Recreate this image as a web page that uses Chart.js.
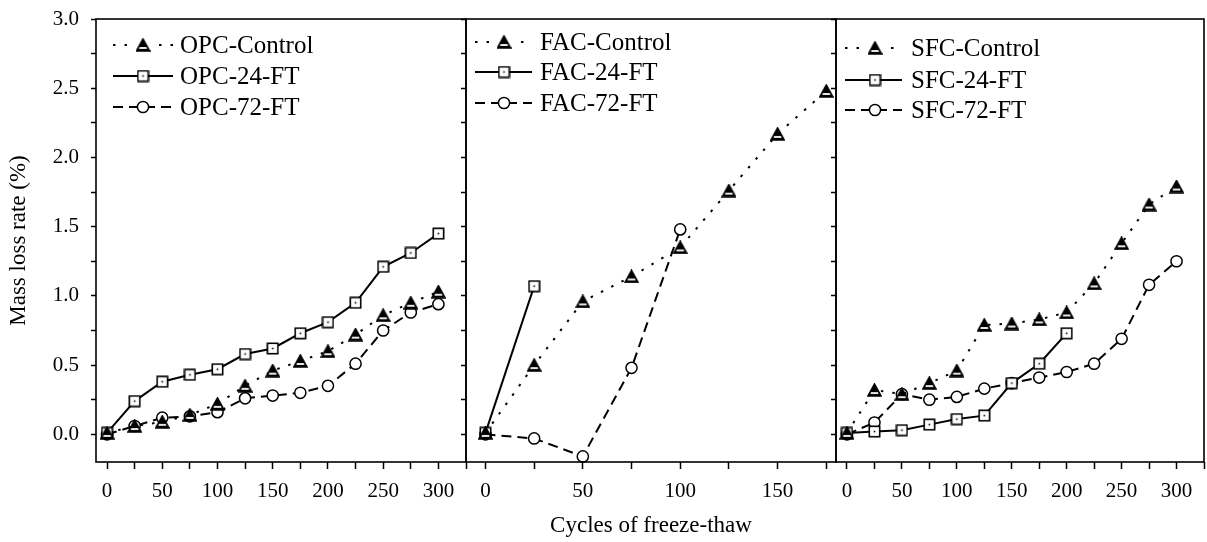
<!DOCTYPE html>
<html>
<head>
<meta charset="utf-8">
<title>Mass loss rate vs freeze-thaw cycles</title>
<script src="https://cdn.jsdelivr.net/npm/chart.js@4.4.1/dist/chart.umd.min.js"></script>
<style>
  html, body { margin: 0; padding: 0; background: #fff; overflow: hidden; }
  #wrap { position: relative; width: 1207px; height: 542px; overflow: hidden; }
  #wrap canvas { position: absolute; left: 0; top: 0; }
</style>
</head>
<body>
<div id="wrap">
  <canvas id="opcChart" width="1207" height="542"></canvas>
  <canvas id="facChart" width="1207" height="542"></canvas>
  <!-- a bit wider than the page: Chart.js keeps ~8px free on the right edge -->
  <canvas id="sfcChart" width="1220" height="542"></canvas>
</div>
<script>
// Cycles of freeze-thaw
const cycles = [0, 25, 50, 75, 100, 125, 150, 175, 200, 225, 250, 275, 300];

// Mass loss rate (%)
const opcControl = [0.01, 0.06, 0.09, 0.14, 0.22, 0.35, 0.46, 0.53, 0.60, 0.72, 0.86, 0.95, 1.03];
const opc24 = [0.01, 0.24, 0.38, 0.43, 0.47, 0.58, 0.62, 0.73, 0.81, 0.95, 1.21, 1.31, 1.45];
const opc72 = [0.00, 0.06, 0.12, 0.13, 0.16, 0.26, 0.28, 0.30, 0.35, 0.51, 0.75, 0.88, 0.94];

const facControl = [0.01, 0.50, 0.96, 1.14, 1.35, 1.76, 2.17, 2.48];
const fac24 = [0.01, 1.07];
const fac72 = [0.00, -0.03, -0.16, 0.48, 1.48];

const sfcControl = [0.01, 0.32, 0.29, 0.37, 0.46, 0.79, 0.80, 0.83, 0.88, 1.09, 1.38, 1.66, 1.79];
const sfc24 = [0.01, 0.02, 0.03, 0.07, 0.11, 0.135, 0.37, 0.51, 0.73];
const sfc72 = [0.00, 0.085, 0.29, 0.25, 0.27, 0.33, 0.37, 0.41, 0.45, 0.51, 0.69, 1.08, 1.25];

const xTickLabels = [0, 50, 100, 150, 200, 250, 300];
const yTickLabels = [0, 0.5, 1, 1.5, 2, 2.5, 3];

Chart.defaults.font.family = '"Liberation Serif", "Times New Roman", serif';
Chart.defaults.color = '#000';
Chart.defaults.animation = false;

// marker images
function makeTriangle() {
    const c = document.createElement('canvas');
    c.width = 15; c.height = 14;
    const g = c.getContext('2d');
    g.beginPath();
    g.moveTo(7.5, 0.8); g.lineTo(14.2, 13.1); g.lineTo(0.8, 13.1); g.closePath();
    g.fillStyle = '#000'; g.fill();
    g.fillStyle = '#fff'; g.fillRect(3.6, 9.1, 7.8, 1.8);
    g.lineWidth = 1.4; g.strokeStyle = '#000'; g.stroke();
    return c;
}

function makeSquare() {
    const c = document.createElement('canvas');
    c.width = 13; c.height = 13;
    const g = c.getContext('2d');
    g.fillStyle = '#fff'; g.fillRect(1, 1, 11, 11);
    g.lineWidth = 1.6; g.strokeStyle = '#000'; g.strokeRect(1.3, 1.3, 10.4, 10.4);
    g.fillStyle = '#000'; g.fillRect(5.7, 5.7, 1.6, 1.6);
    return c;
}

const triangleImg = makeTriangle();
const squareImg = makeSquare();

const DOTTED = [2.5, 9];
const DASHED = [10, 6];

function toPoints(values) {
    return values.map((v, i) => ({ x: cycles[i], y: v }));
}

function controlSet(label, values) {
    return {
        label: label, data: toPoints(values), kind: 'control',
        borderColor: '#000', borderWidth: 2, borderDash: DOTTED,
        pointStyle: triangleImg, pointRadius: 6, clip: false
    };
}
function ft24Set(label, values) {
    return {
        label: label, data: toPoints(values), kind: 'ft24',
        borderColor: '#000', borderWidth: 2,
        pointStyle: squareImg, pointRadius: 6, clip: false
    };
}
function ft72Set(label, values) {
    return {
        label: label, data: toPoints(values), kind: 'ft72',
        borderColor: '#000', borderWidth: 2, borderDash: DASHED,
        pointStyle: 'circle', pointRadius: 5.6, pointBorderWidth: 1.5,
        pointBackgroundColor: '#fff', pointBorderColor: '#000', clip: false
    };
}

// no label overhang padding, so the plot box sits exactly where the layout says
function noScalePadding(s) {
    s.paddingTop = 0; s.paddingBottom = 0; s.paddingLeft = 0; s.paddingRight = 0;
}

// frame around each panel
const framePlugin = {
    id: 'frame',
    afterDraw(chart) {
        const a = chart.chartArea, ctx = chart.ctx;
        ctx.save();
        ctx.strokeStyle = '#000';
        ctx.lineWidth = 1.6;
        ctx.strokeRect(a.left, a.top, a.right - a.left, a.bottom - a.top);
        ctx.restore();
    }
};

// line + marker legend in the upper left corner
const sampleLegend = {
    id: 'sampleLegend',
    afterDraw(chart, args, opts) {
        const ctx = chart.ctx, a = chart.chartArea;
        ctx.save();
        chart.data.datasets.forEach((ds, i) => {
            const y = opts.rows[i];
            const x0 = a.left + opts.lineStart, x1 = a.left + opts.lineEnd;
            const xm = a.left + opts.marker;
            ctx.strokeStyle = '#000';
            ctx.lineWidth = 2;
            ctx.setLineDash(ds.borderDash || []);
            ctx.beginPath();
            ctx.moveTo(x0, y); ctx.lineTo(x1, y);
            ctx.stroke();
            ctx.setLineDash([]);
            if (ds.kind === 'control') {
                ctx.fillStyle = '#fff';
                ctx.fillRect(xm - 8, y - 7, 16, 14);
                ctx.drawImage(triangleImg, xm - 7.5, y - 7);
            } else if (ds.kind === 'ft24') {
                ctx.drawImage(squareImg, xm - 6.5, y - 6.5);
            } else {
                ctx.beginPath();
                ctx.arc(xm, y, 5.6, 0, Math.PI * 2);
                ctx.fillStyle = '#fff'; ctx.fill();
                ctx.lineWidth = 1.5; ctx.stroke();
            }
            ctx.fillStyle = '#000';
            ctx.font = '25px "Liberation Serif", serif';
            ctx.textBaseline = 'middle';
            ctx.textAlign = 'left';
            ctx.fillText(ds.label, a.left + opts.text, y + 1);
        });
        ctx.restore();
    }
};

function makeOptions(cfg) {
    return {
        responsive: false,
        maintainAspectRatio: false,
        layout: { padding: { left: 0, top: 19, right: cfg.padRight, bottom: 0 } },
        plugins: {
            legend: { display: false },
            tooltip: { enabled: false },
            sampleLegend: cfg.legend
        },
        scales: {
            x: {
                type: 'linear',
                min: -10,
                max: cfg.xMax,
                afterFit: s => { s.height = 80; noScalePadding(s); },
                border: { display: false },
                grid: {
                    drawOnChartArea: false, drawTicks: true, tickLength: 7,
                    tickColor: '#000', tickWidth: 1.5
                },
                ticks: {
                    stepSize: 25,
                    includeBounds: false,
                    maxRotation: 0,
                    autoSkip: false,
                    padding: 10,
                    font: { size: 21 },
                    callback: v => xTickLabels.includes(v) ? String(v) : ''
                },
                title: {
                    display: !!cfg.xTitle,
                    text: cfg.xTitle || '',
                    font: { size: 23 },
                    padding: { top: 0, bottom: 2 }
                }
            },
            y: {
                min: -0.2,
                max: 3.0,
                afterFit: s => { s.width = cfg.yWidth; noScalePadding(s); },
                border: { display: false },
                grid: {
                    drawOnChartArea: false, drawTicks: true, tickLength: 5,
                    tickColor: '#000', tickWidth: 1.5
                },
                ticks: {
                    display: cfg.yLabels,
                    stepSize: 0.25,
                    includeBounds: false,
                    padding: 12,
                    font: { size: 21 },
                    callback: v => yTickLabels.some(t => Math.abs(t - v) < 1e-6) ? v.toFixed(1) : ''
                },
                title: {
                    display: !!cfg.yTitle,
                    text: cfg.yTitle || '',
                    font: { size: 23 },
                    padding: { top: 5, bottom: 0 }
                }
            }
        }
    };
}

new Chart(document.getElementById('opcChart'), {
    type: 'line',
    data: {
        datasets: [
            controlSet('OPC-Control', opcControl),
            ft24Set('OPC-24-FT', opc24),
            ft72Set('OPC-72-FT', opc72)
        ]
    },
    options: makeOptions({
        padRight: 741, yWidth: 96, xMax: 325, yLabels: true,
        yTitle: 'Mass loss rate (%)',
        legend: { lineStart: 17, lineEnd: 77, marker: 47, text: 84, rows: [45, 76, 107] }
    }),
    plugins: [framePlugin, sampleLegend]
});

new Chart(document.getElementById('facChart'), {
    type: 'line',
    data: {
        datasets: [
            controlSet('FAC-Control', facControl),
            ft24Set('FAC-24-FT', fac24),
            ft72Set('FAC-72-FT', fac72)
        ]
    },
    options: makeOptions({
        padRight: 371, yWidth: 466, xMax: 180, yLabels: false,
        xTitle: 'Cycles of freeze-thaw',
        legend: { lineStart: 9, lineEnd: 66, marker: 38, text: 74, rows: [42, 72, 103] }
    }),
    plugins: [framePlugin, sampleLegend]
});

new Chart(document.getElementById('sfcChart'), {
    type: 'line',
    data: {
        datasets: [
            controlSet('SFC-Control', sfcControl),
            ft24Set('SFC-24-FT', sfc24),
            ft72Set('SFC-72-FT', sfc72)
        ]
    },
    options: makeOptions({
        padRight: 16, yWidth: 836, xMax: 325, yLabels: false,
        legend: { lineStart: 9, lineEnd: 66, marker: 39, text: 75, rows: [48, 80, 110] }
    }),
    plugins: [framePlugin, sampleLegend]
});
</script>
</body>
</html>
